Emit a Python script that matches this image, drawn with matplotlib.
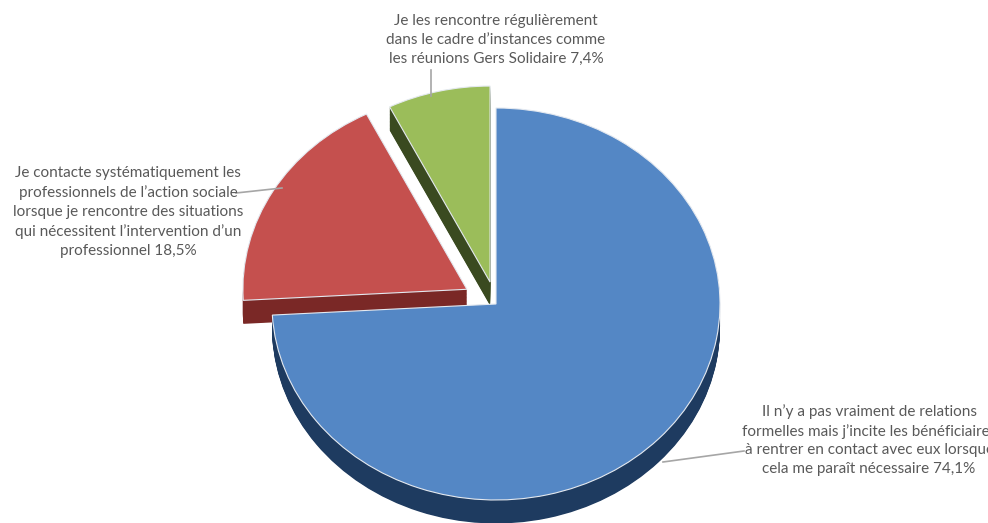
import numpy as np
import matplotlib.pyplot as plt

# data
labels = [
    "Il n\u2019y a pas vraiment de relations\nformelles mais j\u2019incite les b\u00e9n\u00e9ficiaires\n\u00e0 rentrer en contact avec eux lorsque\ncela me para\u00eet n\u00e9cessaire 74,1%",
    "Je contacte syst\u00e9matiquement les\nprofessionnels de l\u2019action sociale\nlorsque je rencontre des situations\nqui n\u00e9cessitent l\u2019intervention d\u2019un\nprofessionnel 18,5%",
    "Je les rencontre r\u00e9guli\u00e8rement\ndans le cadre d\u2019instances comme\nles r\u00e9unions Gers Solidaire 7,4%",
]
values = [74.1, 18.5, 7.4]
explode = [0, 0.15, 0.115]

top_colors = ['#5487C5', '#C5504E', '#9BBD5A']
side_colors = ['#1E3B60', '#7A2826', '#3A4A20']

W, H = 988, 523
fig = plt.figure(figsize=(W / 100, H / 100), dpi=100)
ax = fig.add_axes([0, 0, 1, 1])

# fake 3d: stack darker copies below the top face
depth = 0.12
for t in np.linspace(depth, 0.005, 30):
    ax.pie(values, colors=side_colors, startangle=90, counterclock=False,
           explode=explode, center=(0, -t))
ax.pie(values, colors=top_colors, startangle=90, counterclock=False,
       explode=explode, wedgeprops=dict(edgecolor='#e4e9f0', linewidth=0.8))

# ellipse: 1 unit = 224 px in x, 196 px in y, centre at (496, 304) px
rx, ry, cx, cy = 224, 196, 496, 304
ax.set_aspect('auto')
ax.set_xlim(-cx / rx, (W - cx) / rx)
ax.set_ylim(-(H - cy) / ry, cy / ry)
ax.axis('off')


def fr(x, y):
    return x / W, 1 - y / H


txt = dict(transform=ax.transAxes, ha='center', va='center', fontsize=11,
           color='#595959', family=['Lato', 'DejaVu Sans'], linespacing=1.42)

ax.text(*fr(869, 440), labels[0], **txt)
ax.text(*fr(128, 212), labels[1], **txt)
ax.text(*fr(496, 40), labels[2], **txt)

line = dict(transform=ax.transAxes, color='#a6a6a6', lw=1.2)
p1, p2 = fr(663, 462), fr(744, 451)
ax.plot([p1[0], p2[0]], [p1[1], p2[1]], **line)
p1, p2 = fr(236, 193), fr(282, 188)
ax.plot([p1[0], p2[0]], [p1[1], p2[1]], **line)
p1, p2 = fr(431, 70), fr(431, 96)
ax.plot([p1[0], p2[0]], [p1[1], p2[1]], **line)

fig.savefig('out.png', dpi=100)
